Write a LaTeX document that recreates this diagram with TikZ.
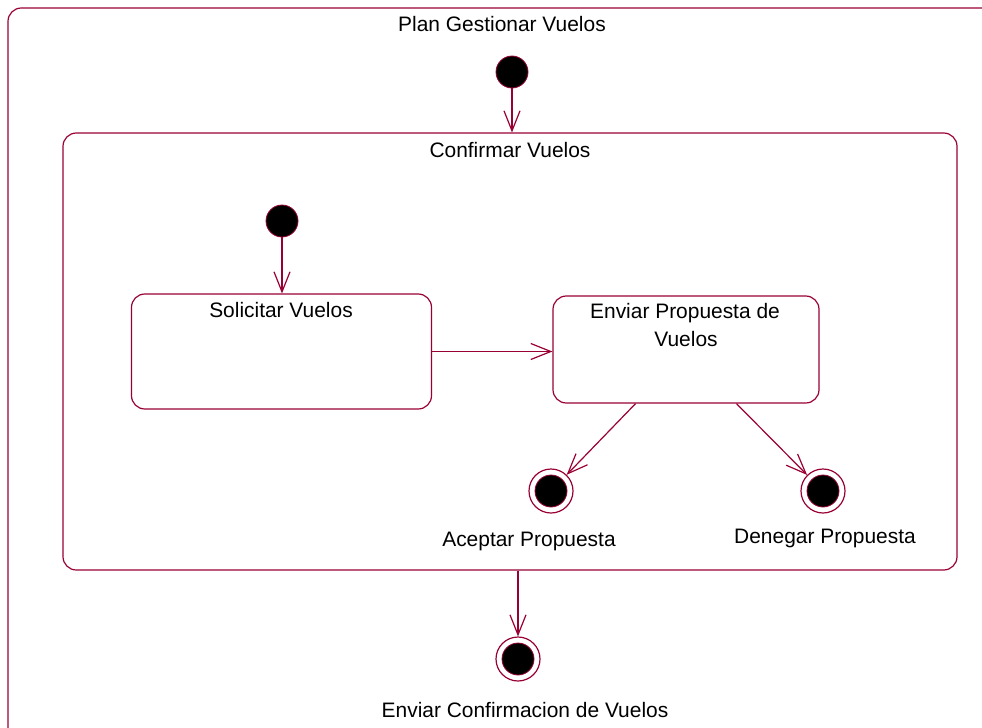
\documentclass[tikz,border=0pt]{standalone}
\usepackage{fontspec}
\setmainfont{Liberation Sans}
\usetikzlibrary{arrows.meta}

\definecolor{umlred}{RGB}{153,0,51}

\tikzset{
	statebox/.style={draw=umlred, line width=0.9pt, rounded corners=10pt, inner sep=0pt},
	initial/.style={circle, draw=umlred, fill=black, line width=0.6pt, minimum size=24pt, inner sep=0pt},
	final/.style={circle, draw=umlred, line width=0.9pt, minimum size=33pt, inner sep=0pt,
		path picture={\filldraw[fill=black, draw=umlred, line width=0.6pt] (path picture bounding box.center) circle (12pt);}},
	trans/.style={draw=umlred, line width=0.9pt, -{Straight Barb[length=15pt,width=12pt]}},
	txt/.style={anchor=base, font=\fontsize{15.7}{18}\selectfont, inner sep=0pt}
}

\begin{document}
\begin{tikzpicture}[x=0.75pt, y=-0.75pt]

	\useasboundingbox (0,0) rectangle (982,728);
	\clip (0,0) rectangle (982,728);

	%outer plan, runs off the page to the right and below
	\draw[statebox] (8,760) |- (1010,8);
	\node[txt] (plan) at (502,31.5) {Plan Gestionar Vuelos};

	\node[initial] (ini) at (512,72) {};

	%composite state
	\node[statebox, minimum width=670.5pt, minimum height=327.75pt] (confirmar) at (510,351.5) {};
	\node[txt] (confirmartxt) at (510,157.5) {Confirmar Vuelos};

	\node[initial] (inisub) at (282,221) {};

	\node[statebox, minimum width=225pt, minimum height=86.25pt] (solicitar) at (281.5,351.5) {};
	\node[txt] (solicitartxt) at (281,317.5) {Solicitar Vuelos};

	\node[statebox, minimum width=199.5pt, minimum height=80.25pt] (enviar) at (686,349.5) {};
	\node[txt] (enviartxt) at (685,318.5) {Enviar Propuesta de};
	\node[txt] (enviartxtb) at (686,346.5) {Vuelos};

	%final states
	\node[final] (aceptar) at (551,491) {};
	\node[txt] (aceptartxt) at (529,546) {Aceptar Propuesta};
	\node[final] (denegar) at (823,491) {};
	\node[txt] (denegartxt) at (825,543) {Denegar Propuesta};
	\node[final] (fin) at (518,659) {};
	\node[txt] (fintxt) at (525,717) {Enviar Confirmacion de Vuelos};

	%transitions
	\draw[trans] (ini) -- (ini |- confirmar.north);
	\draw[trans] (inisub) -- (inisub |- solicitar.north);
	\draw[trans] (solicitar.east) -- (solicitar.east -| enviar.west);
	\draw[trans] (enviar.227) -- (aceptar);
	\draw[trans] (enviar.313) -- (denegar);
	\draw[trans] (confirmar.south -| fin) -- (fin);

\end{tikzpicture}
\end{document}
